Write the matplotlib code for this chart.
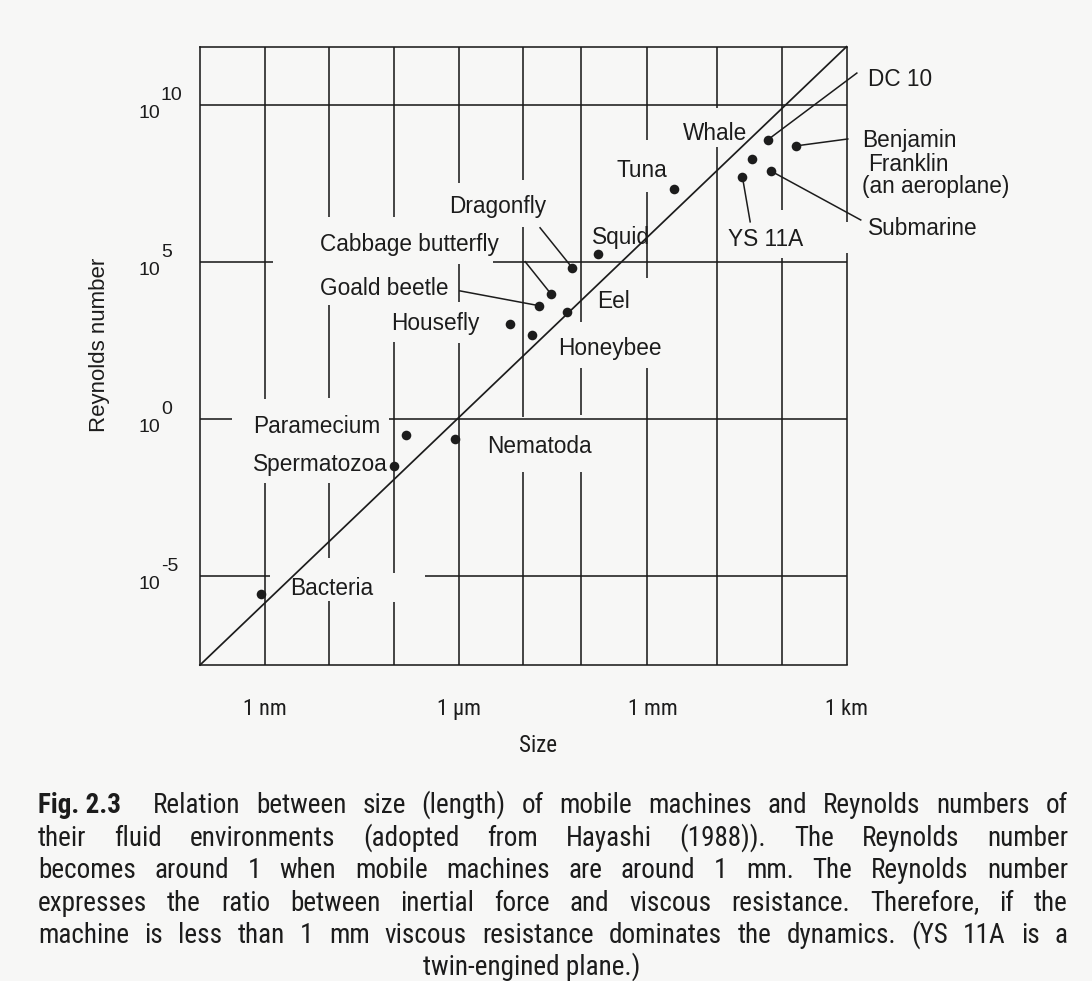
import matplotlib
matplotlib.use("Agg")
import matplotlib.pyplot as plt
from matplotlib import font_manager
from matplotlib.font_manager import FontProperties

_names = {f.name for f in font_manager.fontManager.ttflist}
SANS = "Liberation Sans" if "Liberation Sans" in _names else "DejaVu Sans"


def _weight(f):
    w = f.weight
    if isinstance(w, str):
        w = font_manager.weight_dict.get(w, 400)
    return int(w)


def pick_condensed(bold):
    prefs = ["Liberation Sans Narrow", "Roboto Condensed", "Noto Sans", "Open Sans",
             "Roboto", "Arimo", "Lato", "DejaVu Sans"]
    target = 700 if bold else 400
    best = None
    for f in font_manager.fontManager.ttflist:
        if "[" in f.fname:
            continue
        nm = f.name.lower()
        fn = f.fname.lower()
        st = str(f.stretch).lower()
        is_cond = (st == "condensed") or ("narrow" in nm) or nm.endswith("condensed")
        if not is_cond or f.style != "normal":
            continue
        w = _weight(f)
        for bad in ("medium", "light", "thin", "semibold", "black", "extrabold"):
            if bad in fn.rsplit("/", 1)[-1] and not (bold and bad == "extrabold"):
                w = 9999 if bad not in ("medium",) else 500
        rank = next((i for i, p in enumerate(prefs) if f.name.startswith(p)), 99)
        key = (rank, abs(w - target))
        if best is None or key < best[0]:
            best = (key, f.fname)
    return FontProperties(fname=best[1]) if best else None


COND = pick_condensed(False)
COND_B = pick_condensed(True)


def cond_props(size, bold=False):
    base = COND_B if (bold and COND_B is not None) else COND
    if base is None:
        return FontProperties(family=SANS, size=size, weight="bold" if bold else "normal")
    p = base.copy()
    p.set_size(size)
    return p


# ---------------- data (log10 size, log10 Reynolds number) ----------------
ORGANISMS = ["Bacteria", "Spermatozoa", "Paramecium", "Nematoda", "Housefly",
             "Honeybee", "Goald beetle", "Cabbage butterfly", "Eel", "Dragonfly",
             "Squid", "Tuna", "YS 11A", "Whale", "DC 10", "Submarine",
             "Benjamin Franklin"]
LOG_SIZE = [-9.05, -7.00, -6.81, -6.05, -5.21, -4.87, -4.76, -4.57, -4.32, -4.24,
            -3.84, -2.67, -1.61, -1.46, -1.22, -1.17, -0.78]
LOG_RE = [-5.59, -1.52, -0.51, -0.65, 3.02, 2.67, 3.60, 3.97, 3.39, 4.80,
          5.24, 7.32, 7.70, 8.28, 8.88, 7.89, 8.69]

LABEL_TEXT = ["Bacteria", "Spermatozoa", "Paramecium", "Nematoda", "Housefly",
              "Honeybee", "Goald beetle", "Cabbage butterfly", "Eel", "Dragonfly",
              "Squid", "Tuna", "YS 11A", "Whale", "DC 10", "Submarine",
              "Benjamin", "Franklin", "(an aeroplane)"]
LABEL_X = [-8.61, -9.18, -9.18, -5.56, -7.05, -4.46, -8.14, -8.14, -3.86, -6.15,
           -3.94, -3.55, -1.83, -2.53, 0.34, 0.33, 0.24, 0.33, 0.24]
LABEL_Y = [-5.61, -1.66, -0.45, -1.09, 2.83, 2.03, 3.95, 5.35, 3.53, 6.56,
           5.57, 7.70, 5.51, 8.88, 10.61, 5.85, 8.66, 7.89, 7.19]

LEADER_FOR = ["Goald beetle", "Cabbage butterfly", "Dragonfly", "YS 11A", "DC 10",
              "Submarine", "Benjamin Franklin"]
LEADER_X = [-5.98, -4.97, -4.74, -1.49, 0.16, 0.22, 0.02]
LEADER_Y = [4.07, 5.00, 6.08, 6.27, 11.01, 6.33, 8.91]

TREND_X = [-10.0, 0.0]
TREND_Y = [-7.85, 11.85]

X_TICKS = [-9, -6, -3, 0]
X_TICK_LABELS = ["1 nm", "1 \u00b5m", "1 mm", "1 km"]
Y_TICKS = [-5, 0, 5, 10]
Y_EXPONENTS = ["-5", "0", "5", "10"]

# broken grid lines of the original drawing
V_GRID_X = [-9, -8, -7, -6, -5, -4.11, -3.09, -2, -1, 0]
V_GRID_SPANS = [
    [(0.63, 11.85), (-7.85, -2.04)],
    [(6.42, 11.85), (0.67, 3.63), (-4.43, -2.04), (-7.85, -5.80)],
    [(6.42, 11.85), (-4.92, 2.45), (-7.85, -5.84)],
    [(7.51, 11.85), (3.72, 4.93), (-7.85, 2.42)],
    [(7.61, 11.85), (0.06, 6.11), (-7.85, -1.70)],
    [(3.08, 11.85), (0.12, 1.62), (-7.85, -1.70)],
    [(8.88, 11.85), (4.48, 7.22), (-7.85, 1.62)],
    [(9.90, 11.85), (-7.85, 8.66)],
    [(6.65, 11.85), (-7.85, 5.12)],
    [(6.27, 11.85), (-7.85, 5.28)],
]
H_GRID_Y = [10, 5, 0, -5]
H_GRID_SPANS = [
    [(-10, 0)],
    [(-10, -8.87), (-5.47, 0)],
    [(-10, -9.51), (-7.08, 0)],
    [(-10, -8.92), (-6.52, 0)],
]

CAPTION_BOLD = "Fig. 2.3"
CAPTION = [
    "Fig. 2.3 Relation between size (length) of mobile machines and Reynolds numbers of",
    "their fluid environments (adopted from Hayashi (1988)). The Reynolds number",
    "becomes around 1 when mobile machines are around 1 mm. The Reynolds number",
    "expresses the ratio between inertial force and viscous resistance. Therefore, if the",
    "machine is less than 1 mm viscous resistance dominates the dynamics. (YS 11A is a",
    "twin-engined plane.)",
]
CAPTION_BASELINES = [813, 846, 878, 911, 943, 975]

# ---------------- style ----------------
W, H = 1092, 981
BG = "#f7f7f6"
INK = "#1c1c1c"
LW = 1.15

fig = plt.figure(figsize=(W / 100, H / 100), dpi=100, facecolor=BG)
ax = fig.add_axes([200 / W, (H - 665) / H, 646.5 / W, (665 - 46.7) / H], facecolor=BG)
ax.set_xlim(-10, 0)
ax.set_ylim(-7.85, 11.85)

for side in ["left", "top", "bottom"]:
    ax.spines[side].set_linewidth(LW)
    ax.spines[side].set_color(INK)
ax.spines["right"].set_visible(False)

for x, spans in zip(V_GRID_X, V_GRID_SPANS):
    for y0, y1 in spans:
        ax.vlines(x, y0, y1, color=INK, lw=LW, clip_on=False, zorder=2)
for y, spans in zip(H_GRID_Y, H_GRID_SPANS):
    for x0, x1 in spans:
        ax.hlines(y, x0, x1, color=INK, lw=LW, clip_on=False, zorder=2)

ax.plot(TREND_X, TREND_Y, color=INK, lw=1.25, clip_on=False, zorder=3)

for name, lx, ly in zip(LEADER_FOR, LEADER_X, LEADER_Y):
    j = ORGANISMS.index(name)
    ax.plot([lx, LOG_SIZE[j]], [ly, LOG_RE[j]], color=INK, lw=1.1,
            clip_on=False, zorder=3)

ax.scatter(LOG_SIZE, LOG_RE, s=48, color=INK, zorder=5, clip_on=False, linewidths=0)

for t, x, y in zip(LABEL_TEXT, LABEL_X, LABEL_Y):
    ax.text(x, y, t, ha="left", va="baseline", fontsize=16.3, family=SANS,
            color=INK, clip_on=False)

# ticks
ax.set_xticks(X_TICKS, labels=X_TICK_LABELS)
ax.tick_params(axis="x", length=0, pad=24.5, labelcolor=INK)
for lbl in ax.get_xticklabels():
    lbl.set_fontproperties(cond_props(16))
ax.set_yticks(Y_TICKS, labels=["10"] * len(Y_TICKS))
ax.tick_params(axis="y", length=0, pad=28.8, labelsize=14, labelcolor=INK)
for lbl in ax.get_yticklabels():
    lbl.set_family(SANS)
    lbl.set_verticalalignment("top")
for y, e in zip(Y_TICKS, Y_EXPONENTS):
    ax.annotate(e, xy=(0, y), xycoords=("axes fraction", "data"),
                xytext=(-39, 5), textcoords="offset pixels",
                ha="left", va="baseline", fontsize=14, family=SANS, color=INK,
                annotation_clip=False)

ax.set_ylabel("Reynolds number", fontsize=16, family=SANS, color=INK)
ax.yaxis.set_label_coords((100 - 200) / 646.5, (665 - 345) / 618.3)
ax.yaxis.label.set_verticalalignment("center")
ax.set_xlabel("Size", color=INK)
ax.xaxis.label.set_fontproperties(cond_props(16.5))
ax.xaxis.set_label_coords((538 - 200) / 646.5, (665 - 746) / 618.3)
ax.xaxis.label.set_verticalalignment("center")

# ---------------- justified caption ----------------
cap_fs = 19.5
fig.canvas.draw()
renderer = fig.canvas.get_renderer()


def measure(s, bold, fs):
    t = fig.text(0, 0, s, fontproperties=cond_props(fs, bold))
    w = t.get_window_extent(renderer).width
    t.remove()
    return w


L, R, CENTER = 38, 1068, 532
EXTRA = 16


def line_tokens(line):
    if line.startswith(CAPTION_BOLD):
        return [(CAPTION_BOLD, True)] + [(w, False) for w in line[len(CAPTION_BOLD):].split()]
    return [(w, False) for w in line.split()]


space = measure("a a", False, cap_fs) - measure("aa", False, cap_fs)
worst = 0
for line in CAPTION[:-1]:
    toks = line_tokens(line)
    nat = sum(measure(t, b, cap_fs) for t, b in toks) + space * (len(toks) - 1)
    worst = max(worst, nat / (R - L - EXTRA))
if worst > 1:
    cap_fs = cap_fs / worst * 0.995

for i, line in enumerate(CAPTION):
    by = 1 - CAPTION_BASELINES[i] / H
    if i == len(CAPTION) - 1:
        fig.text(CENTER / W, by, line, ha="center", va="baseline",
                 fontproperties=cond_props(cap_fs), color=INK)
        continue
    toks = line_tokens(line)
    widths = [measure(t, b, cap_fs) for t, b in toks]
    bold = toks[0][1]
    extra = EXTRA if bold else 0
    gap = (R - L - sum(widths) - extra) / (len(toks) - 1)
    x = L
    for k, ((t, b), w) in enumerate(zip(toks, widths)):
        fig.text(x / W, by, t, ha="left", va="baseline",
                 fontproperties=cond_props(cap_fs, b), color=INK)
        x += w + gap + (extra if (k == 0 and bold) else 0)

fig.savefig("out.png", dpi=100, facecolor=BG)
